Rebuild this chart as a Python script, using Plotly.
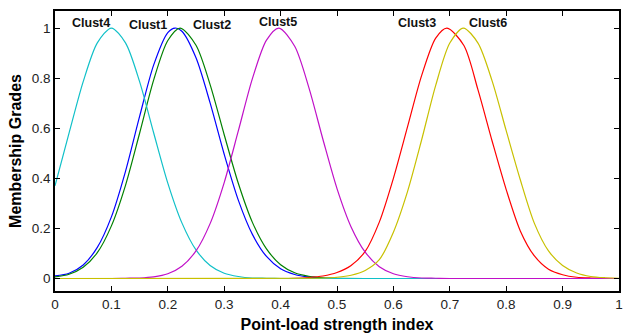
import plotly.graph_objects as go

# ---- data ----
names = ["Clust1", "Clust2", "Clust3", "Clust4", "Clust5", "Clust6"]

c1_x = [0, .025, .05, .075, .1, .125, .15, .175, .2, .213, .225, .25, .275, .3, .325, .35, .375, .4, .425, .45, .475, .5, .55, 1]
c1_y = [.010, .021, .054, .124, .246, .428, .647, .853, .982, 1, .987, .881, .701, .496, .313, .176, .088, .039, .016, .006, .002, 0, 0, 0]

c2_x = [0, .025, .05, .075, .1, .125, .15, .175, .2, .222, .25, .275, .3, .325, .35, .375, .4, .425, .45, .475, .5, .55, 1]
c2_y = [.006, .017, .045, .103, .210, .372, .580, .793, .950, 1, .931, .774, .574, .380, .224, .118, .055, .023, .009, .003, .001, 0, 0]

c3_x = [0, .4, .425, .45, .475, .5, .525, .55, .575, .6, .625, .65, .675, .695, .725, .75, .775, .8, .825, .85, .875, .9, .925, .95, .975, 1]
c3_y = [0, 0, .001, .004, .010, .024, .052, .108, .225, .400, .605, .810, .960, 1, .930, .753, .549, .355, .190, .090, .037, .015, .005, .002, .001, 0]

c4_x = [0, .025, .05, .075, .1, .125, .15, .175, .2, .225, .25, .275, .3, .325, .35, .375, .4, .45, 1]
c4_y = [.37, .581, .786, .941, 1, .941, .786, .581, .381, .222, .114, .052, .021, .008, .002, .001, 0, 0, 0]

c5_x = [0, .1, .125, .15, .175, .2, .225, .25, .275, .3, .325, .35, .375, .397, .425, .45, .475, .5, .525, .55, .575, .6, .625, .65, .675, .7, 1]
c5_y = [0, 0, .001, .002, .0065, .019, .049, .110, .219, .383, .589, .798, .952, 1, .927, .763, .556, .359, .206, .105, .047, .019, .007, .002, .001, 0, 0]

c6_x = [0, .45, .475, .5, .525, .55, .575, .6, .625, .65, .675, .7, .724, .75, .775, .8, .825, .85, .875, .9, .925, .95, .975, 1]
c6_y = [0, .001, .002, .005, .013, .032, .075, .185, .347, .553, .771, .940, 1, .940, .789, .590, .394, .220, .110, .052, .022, .008, .003, .001]

series_x = [c1_x, c2_x, c3_x, c4_x, c5_x, c6_x]
series_y = [c1_y, c2_y, c3_y, c4_y, c5_y, c6_y]
colors = ["#0000ff", "#008000", "#ff0000", "#10c0c8", "#c010c8", "#c8c000"]

# label positions (data coords) of the cluster names
label_x = [0.165, 0.278, 0.642, 0.063, 0.396, 0.767]
label_y = [1.012, 1.012, 1.02, 1.02, 1.024, 1.02]

x_ticks = [0, 0.1, 0.2, 0.3, 0.4, 0.5, 0.6, 0.7, 0.8, 0.9, 1]
x_tick_text = ["0", "0.1", "0.2", "0.3", "0.4", "0.5", "0.6", "0.7", "0.8", "0.9", "1"]
y_ticks = [0, 0.2, 0.4, 0.6, 0.8, 1]
y_tick_text = ["0", "0.2", "0.4", "0.6", "0.8", "1"]

FONT = "Liberation Sans, Arial, sans-serif"

fig = go.Figure()
for n, xs, ys, c in zip(names, series_x, series_y, colors):
    fig.add_trace(go.Scatter(x=xs, y=ys, mode="lines", name=n,
                             line=dict(color=c, width=1.2, shape="spline", smoothing=0.8),
                             showlegend=False, hoverinfo="skip"))

for n, lx, ly in zip(names, label_x, label_y):
    fig.add_annotation(x=lx, y=ly, xref="x", yref="y", text="<b>%s</b>" % n,
                       showarrow=False, font=dict(family=FONT, size=12.5, color="#111"),
                       xanchor="center", yanchor="middle")

axis_common = dict(showline=True, linecolor="black", linewidth=1.5, mirror="ticks",
                   ticks="inside", ticklen=5, tickcolor="black", tickwidth=1,
                   showgrid=False, zeroline=False, ticklabeloverflow="allow",
                   tickfont=dict(family=FONT, size=13.5, color="#222"))

fig.update_xaxes(range=[0, 1], tickvals=x_ticks, ticktext=x_tick_text,
                 title=dict(text="<b>Point-load strength index</b>", standoff=8,
                            font=dict(family=FONT, size=16, color="black")),
                 **axis_common)
fig.update_yaxes(range=[-0.05, 1.068], tickvals=y_ticks, ticktext=y_tick_text,
                 title=dict(text="<b>Membership Grades</b>", standoff=6,
                            font=dict(family=FONT, size=16, color="black")),
                 **axis_common)

fig.update_layout(width=625, height=333, margin=dict(l=55, r=2, t=11, b=42),
                  plot_bgcolor="white", paper_bgcolor="white")

fig.write_html("out.html")
